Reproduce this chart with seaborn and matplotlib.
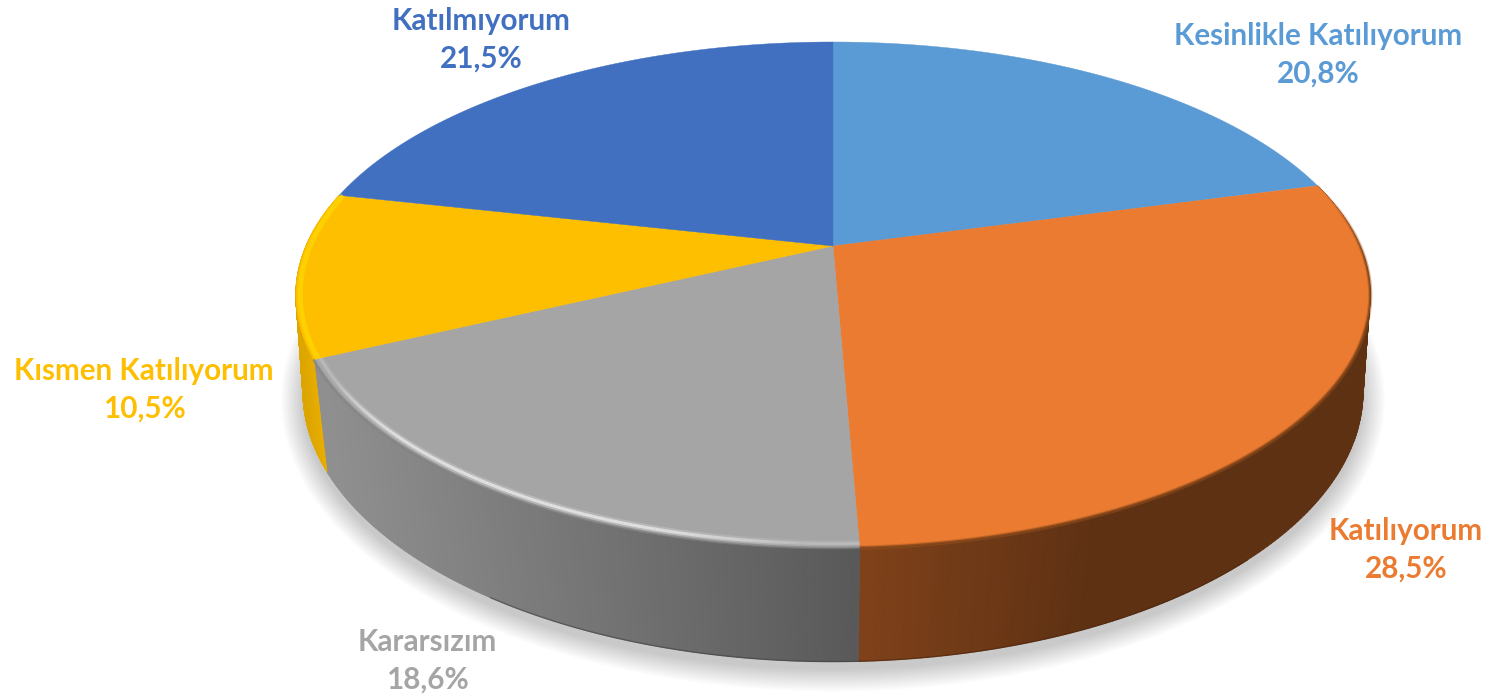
import numpy as np
import matplotlib
matplotlib.use("Agg")
import matplotlib.pyplot as plt
from matplotlib.collections import PolyCollection, LineCollection
from matplotlib.colors import to_rgb
import seaborn as sns

categories = ["Kesinlikle Katılıyorum", "Katılıyorum", "Kararsızım", "Kısmen Katılıyorum", "Katılmıyorum"]
values = [20.8, 28.5, 18.6, 10.5, 21.5]
top_colors = ["#5B9BD5", "#EB7B31", "#A5A5A5", "#FDBF00", "#4170C1"]
# side colour at the left and right end of each visible side, and where the ramp runs
side_ramps = {1: ("#80421A", "#5E3113", 858, 1100),
              2: ("#8F8F8F", "#595959", 327, 858),
              3: ("#DCA500", "#F2B400", 298, 327)}
label_pos = [(1318, 36), (1406, 531), (427, 642), (144, 371), (481, 21)]

sns.set_theme(style="white")
palette = sns.color_palette(top_colors)
plt.rcParams["font.family"] = ["Lato", "DejaVu Sans"]

CX = 833


def top_pt(phi, r=1.0):
    x, y = r * np.sin(phi), -r * np.cos(phi)
    d = 1 - 0.1936 * y
    return CX + 527 * x / d, 246 + 243.5 * y / d


def low_pt(phi):
    x, y = np.sin(phi), -np.cos(phi)
    d = 1 - 0.15 * y
    return CX + 524 * x / d, 351 + 264 * y / d


def blend(a, b, t):
    t = np.clip(t, 0, 1)
    return tuple((1 - t) * np.array(to_rgb(a)) + t * np.array(to_rgb(b)))


fig, ax = plt.subplots(figsize=(14.9, 6.98), dpi=100)
fig.subplots_adjust(0, 0, 1, 1)
ax.set_xlim(0, 1490)
ax.set_ylim(698, 0)
ax.axis("off")

edges = 2 * np.pi * np.concatenate([[0], np.cumsum(values)]) / sum(values)

# soft shadow under the disc
full = np.linspace(0, 2 * np.pi, 360)
for d in np.linspace(22, 0, 18):
    lx, ly = low_pt(full)
    ax.fill(CX + (lx - CX) * (1 + d / 530), 400 + (ly - 392) * (1 + d / 270),
            color="black", alpha=0.011, lw=0, zorder=1)

# sides, in thin strips so the shade can follow x
polys, cols = [], []
for i, (lo, hi) in enumerate(zip(edges[:-1], edges[1:])):
    if i not in side_ramps:
        continue
    c0, c1, x0, x1 = side_ramps[i]
    phis = np.linspace(lo, hi, 160)
    for a, b in zip(phis[:-1], phis[1:]):
        polys.append([top_pt(a), top_pt(b), low_pt(b), low_pt(a)])
        cols.append(blend(c0, c1, (polys[-1][0][0] - x0) / (x1 - x0)))
ax.add_collection(PolyCollection(polys, facecolors=cols, edgecolors=cols, linewidths=0.7, zorder=2))

# dark line at the foot of the side
phis = np.linspace(np.radians(177.5), np.radians(215), 80)
ax.plot(*low_pt(phis), color="#3C3C3C", lw=1.0, alpha=0.55, zorder=3)
phis = np.linspace(np.radians(135), np.radians(177.5), 80)
ax.plot(*low_pt(phis), color="#4A250D", lw=1.0, alpha=0.6, zorder=3)

# top face
for i, (lo, hi) in enumerate(zip(edges[:-1], edges[1:])):
    phis = np.linspace(lo, hi, 200)
    x, y = top_pt(phis)
    ax.fill(np.r_[CX, x], np.r_[246, y], color=palette[i], lw=0.3, zorder=4)


def rim(i, r, color, lw, alpha_fn):
    phis = np.linspace(edges[i], edges[i + 1], 240)
    x, y = top_pt(phis, r)
    seg = np.stack([np.c_[x[:-1], y[:-1]], np.c_[x[1:], y[1:]]], axis=1)
    t = (phis[:-1] - edges[i]) / (edges[i + 1] - edges[i])
    rgba = [to_rgb(color) + (float(a),) for a in alpha_fn(t)]
    ax.add_collection(LineCollection(seg, colors=rgba, linewidths=lw, zorder=5))


# bevel on the front rim
glow = lambda t: np.clip(np.sin(np.pi * t) * 1.3, 0.3, 1)
rim(2, 0.988, "#DADADA", 5.0, lambda t: 0.35 * glow(t))
rim(2, 0.988, "#E6E6E6", 2.2, lambda t: 0.9 * glow(t))
rim(2, 1.000, "#7E7E7E", 2.0, lambda t: 0.6 * np.ones_like(t))
rim(1, 1.000, "#A8591F", 3.0, lambda t: 0.45 * np.clip((t - 0.02) * 6, 0, 1))
rim(1, 1.000, "#6E3A16", 1.5, lambda t: 0.6 * np.clip((t - 0.02) * 6, 0, 1))
rim(3, 0.992, "#FFD800", 3.5, lambda t: 0.9 * np.ones_like(t))

for i, name in enumerate(categories):
    pct = f"{values[i]:.1f}%".replace(".", ",")
    x, y = label_pos[i]
    ax.text(x, y, name, color=palette[i], fontsize=21.3, fontweight="bold", ha="center", va="center", zorder=6)
    ax.text(x, y + 38, pct, color=palette[i], fontsize=21.3, fontweight="bold", ha="center", va="center", zorder=6)

fig.savefig("out.png", dpi=100)
